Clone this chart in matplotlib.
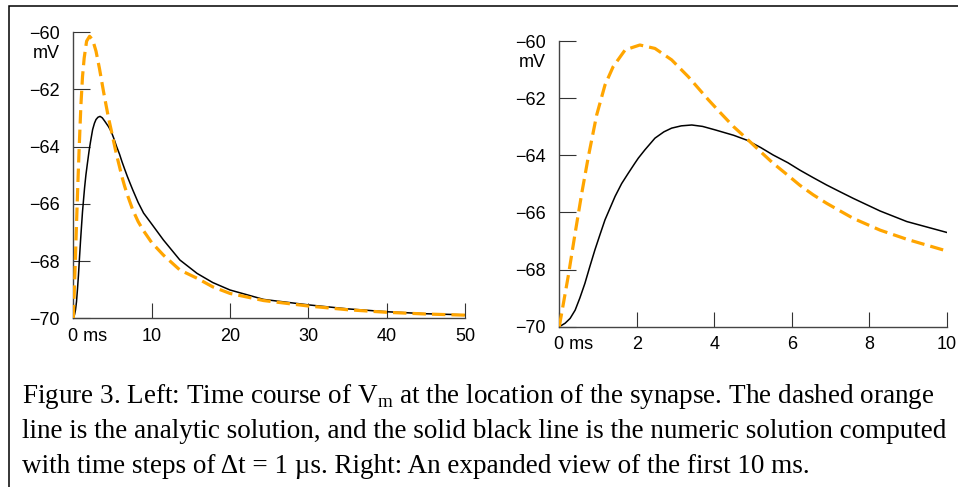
import matplotlib
matplotlib.use('Agg')
import matplotlib.pyplot as plt
from matplotlib.patches import Rectangle
from matplotlib.transforms import ScaledTranslation

plt.rcParams['font.family'] = 'Liberation Sans'
plt.rcParams['mathtext.fontset'] = 'custom'
plt.rcParams['mathtext.rm'] = 'Liberation Serif'

## values (ms, mV)
t_analytic = [0, 0.23, 0.41, 0.58, 0.75, 0.965, 1.18, 1.39, 1.7, 2.08, 2.47, 2.9, 3.33,
              3.85, 4.15, 4.5, 4.84, 5.2, 5.52, 5.9, 6.21, 6.55, 6.9, 7.25, 7.59, 8.28,
              8.97, 10, 11.5, 13.6, 15.8, 17.8, 20, 24.3, 30, 35, 40, 45, 50]
v_analytic = [-70, -68.24, -66.72, -65.33, -64.05, -62.59, -61.54, -60.9, -60.31, -60.14,
              -60.26, -60.66, -61.25, -62.06, -62.5, -63.0, -63.42, -63.88, -64.28, -64.7,
              -65.05, -65.38, -65.68, -65.95, -66.21, -66.62, -66.94, -67.35, -67.79,
              -68.31, -68.6, -68.9, -69.13, -69.38, -69.57, -69.7, -69.79, -69.85, -69.89]

t_numeric = [0, 0.15, 0.28, 0.41, 0.53, 0.66, 0.79, 0.92, 1.05, 1.18, 1.31, 1.44, 1.61,
             1.78, 1.95, 2.04, 2.21, 2.47, 2.7, 2.9, 3.15, 3.42, 3.7, 4.02, 4.5, 4.84,
             5.2, 5.52, 5.9, 6.21, 6.55, 6.9, 7.25, 7.59, 8.28, 8.97, 10, 11.5, 13.6,
             15.8, 17.8, 20, 24.3, 30, 35, 40, 45, 50]
v_numeric = [-70, -69.88, -69.71, -69.42, -69.0, -68.49, -67.89, -67.31, -66.78, -66.26,
             -65.85, -65.44, -64.99, -64.63, -64.28, -64.1, -63.81, -63.4, -63.18, -63.05,
             -62.97, -62.94, -62.99, -63.11, -63.3, -63.47, -63.73, -63.99, -64.26,
             -64.52, -64.78, -65.04, -65.28, -65.51, -65.95, -66.32, -66.7, -67.26,
             -67.96, -68.43, -68.75, -69.01, -69.34, -69.53, -69.67, -69.77, -69.84,
             -69.88]

y_ticks = [-70, -68, -66, -64, -62, -60]
y_labels = ['\u221270', '\u221268', '\u221266', '\u221264', '\u221262', '\u221260']
x_ticks_left = [0, 10, 20, 30, 40, 50]
x_labels_left = ['0 ms', '10', '20', '30', '40', '50']
x_ticks_right = [0, 2, 4, 6, 8, 10]
x_labels_right = ['0 ms', '2', '4', '6', '8', '10']

caption = [
    'Figure 3. Left: Time course of V$_\\mathrm{m}$ at the location of the synapse. The dashed orange',
    'line is the analytic solution, and the solid black line is the numeric solution computed',
    'with time steps of \u0394t = 1 \u00b5s. Right: An expanded view of the first 10 ms.',
]

fig = plt.figure(figsize=(9.58, 4.87), dpi=100)

## frame round the whole figure
fig.patches.append(Rectangle((9 / 958, -0.1), 1.2, 1.1 - 6 / 487, transform=fig.transFigure,
                             fill=False, edgecolor='black', linewidth=1.1))

ax1 = fig.add_axes([0.0765, 0.3464, 0.4089, 0.5873])
ax2 = fig.add_axes([0.5838, 0.3292, 0.4044, 0.5866])

panels = [(ax1, 50, x_ticks_left, x_labels_left), (ax2, 10, x_ticks_right, x_labels_right)]

for ax, xmax, xt, xl in panels:
    ax.plot(t_numeric, v_numeric, color='black', linewidth=1.1, zorder=3)
    ax.plot(t_analytic, v_analytic, color='#FFA500', linewidth=2.3,
            dashes=(4.2, 1.9), zorder=4)
    ax.set_xlim(0, xmax)
    ax.set_ylim(-70, -60)
    for s in ['top', 'right']:
        ax.spines[s].set_visible(False)
    for s in ['left', 'bottom']:
        ax.spines[s].set_color('#444444')
        ax.spines[s].set_linewidth(1.0)
    ax.set_yticks(y_ticks)
    ax.set_yticklabels(y_labels)
    ax.set_xticks(xt)
    ax.set_xticklabels(xl)
    ax.tick_params(axis='y', direction='in', length=12, width=0.8, color='#333333',
                   pad=10, labelsize=13)
    ax.tick_params(axis='x', direction='in', length=11, width=0.8, color='#333333',
                   pad=7, labelsize=13)
    first = ax.get_xticklabels()[0]
    first.set_ha('left')
    first.set_transform(first.get_transform() + ScaledTranslation(-5 / 100, 0, fig.dpi_scale_trans))
    ax.text(-0.034, 0.91, 'mV', transform=ax.transAxes, ha='right', va='baseline', fontsize=13)

for i, line in enumerate(caption):
    fig.text(22 / 958, 1 - (403 + 35 * i) / 487, line, family='Liberation Serif',
             fontsize=19.5, ha='left', va='baseline')

fig.savefig('out.png', dpi=100)
